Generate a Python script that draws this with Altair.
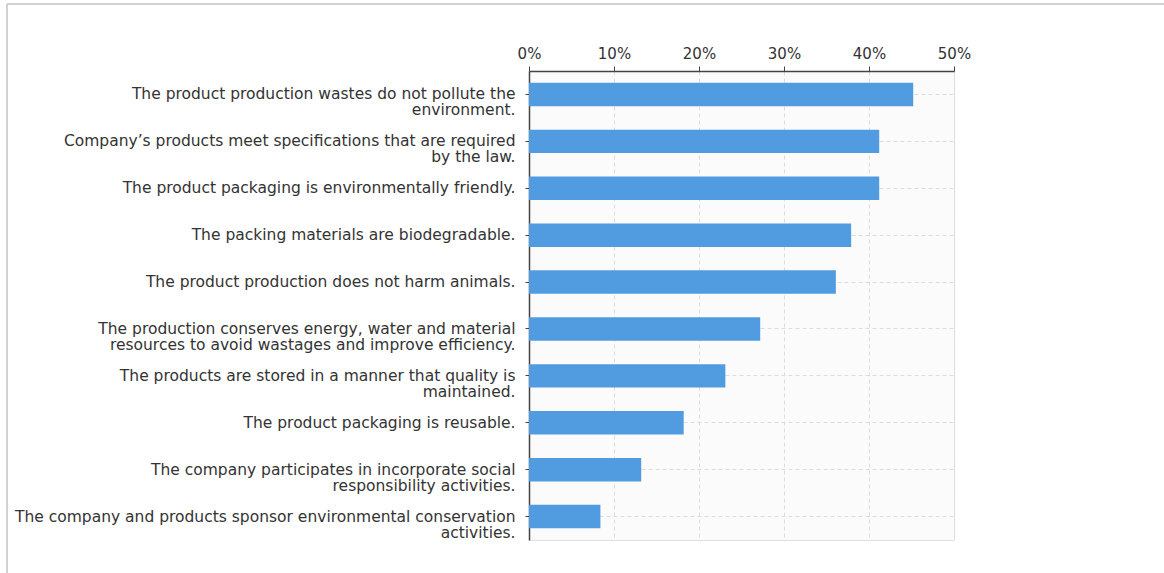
import altair as alt
import pandas as pd

statements = [
    "The product production wastes do not pollute the|environment.\u00a0",
    "Company\u2019s products meet specifications that are required|by the law.",
    "The product packaging is environmentally friendly.",
    "The packing materials are biodegradable.",
    "The product production does not harm animals.",
    "The production conserves energy, water and material|resources to avoid wastages and improve efficiency.",
    "The products are stored in a manner that quality is|maintained.\u00a0",
    "The product packaging is reusable.",
    "The company participates in incorporate social|responsibility activities.",
    "The company and products sponsor environmental conservation|activities.",
]
shares = [0.452, 0.412, 0.412, 0.379, 0.361, 0.272, 0.231, 0.182, 0.132, 0.084]
x_ticks = [0, 0.1, 0.2, 0.3, 0.4, 0.5]

df = pd.DataFrame({"statement": statements, "share": shares})

FONT = "DejaVu Sans"

bars = alt.Chart(df).mark_bar(color="#519ce1").encode(
    x=alt.X(
        "share:Q",
        scale=alt.Scale(domain=[0, 0.5], nice=False),
        axis=alt.Axis(
            orient="top",
            values=x_ticks,
            format=".0%",
            title=None,
            grid=True,
            gridDash=[4, 3],
            gridColor="#dcdcdc",
            domainColor="#444444",
            domainWidth=1.5,
            tickColor="#444444",
            tickSize=5,
            labelFontSize=15,
            labelFont=FONT,
            labelColor="#333333",
            labelPadding=5,
            labelFlush=False,
        ),
    ),
    y=alt.Y(
        "statement:N",
        sort=None,
        scale=alt.Scale(paddingInner=0.5, paddingOuter=0.25),
        axis=alt.Axis(
            title=None,
            grid=True,
            gridDash=[4, 3],
            gridColor="#dcdcdc",
            domainColor="#444444",
            domainWidth=1.5,
            tickColor="#444444",
            tickSize=4,
            labelExpr="split(datum.label, '|')",
            labelFontSize=15.5,
            labelFont=FONT,
            labelColor="#333333",
            labelLineHeight=16,
            labelPadding=10,
            labelLimit=0,
        ),
    ),
)

frame_top = alt.Chart(df).mark_rule(color="#d0d0d0", strokeWidth=1.5).encode(
    x=alt.value(-522), x2=alt.value(635), y=alt.value(-67)
)
frame_left = alt.Chart(df).mark_rule(color="#d0d0d0", strokeWidth=1.5).encode(
    x=alt.value(-522), y=alt.value(-67), y2=alt.value(502)
)

chart = (
    alt.layer(frame_top, frame_left, bars)
    .properties(
        width=425,
        height=469,
        autosize=alt.AutoSizeParams(type="none"),
        padding={"left": 529, "top": 71, "right": 210, "bottom": 33},
        background="white",
    )
    .configure_view(stroke="#e0e0e0", fill="#fbfbfb")
)

chart.save("out.html", embed_options={"renderer": "svg", "actions": False})
